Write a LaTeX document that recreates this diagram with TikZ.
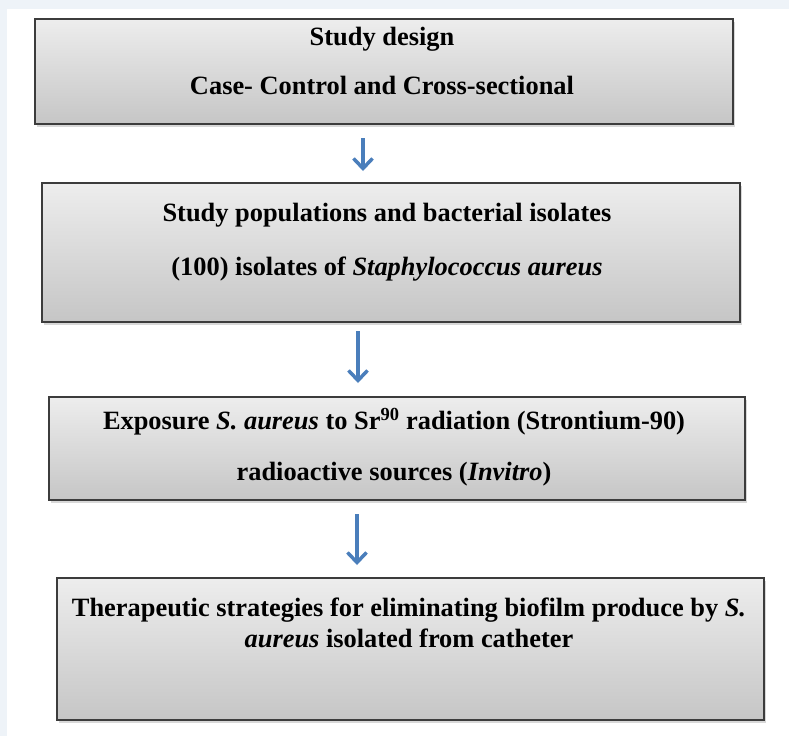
\documentclass[tikz,border=0pt]{standalone}
\usepackage{fontspec}
\setmainfont{Liberation Serif}
\usetikzlibrary{arrows.meta,shadows}
\definecolor{flowBlue}{RGB}{74,126,187}
\definecolor{pageTint}{RGB}{238,243,248}
\definecolor{boxEdge}{RGB}{60,60,60}

\begin{document}
\begin{tikzpicture}[x=1pt,y=-1pt,
  panel/.style={rectangle,draw=boxEdge,line width=2pt,top color=gray!14,bottom color=gray!45,
    drop shadow={shadow xshift=2pt,shadow yshift=-3pt,opacity=0.3}},
  txt/.style={align=center,inner sep=0pt,font=\fontsize{26.4}{30.5}\selectfont\bfseries},
  flow/.style={-{Straight Barb[length=10pt,width=19pt,line width=3.5pt]},flowBlue,line width=4pt}]
% page
\fill[pageTint] (0,0) rectangle (789,736);
\fill[white] (7,9) rectangle (789,736);
\useasboundingbox (0,0) rectangle (789,736);

% Study design
\node[panel,minimum width=698pt,minimum height=105pt] (design) at (384,71.5) {};
\node[txt] (designtxt) at (382,61) {Study design\\[18pt]Case- Control and Cross-sectional};

% Populations
\node[panel,minimum width=698pt,minimum height=139pt] (pop) at (391,252.5) {};
\node[txt] (poptxt) at (387,242) {Study populations and bacterial isolates\\[24pt](100) isolates of \textit{Staphylococcus aureus}};

% Exposure
\node[panel,minimum width=696pt,minimum height=103pt] (expo) at (397,448.5) {};
\node[txt] (expotxt) at (394,447) {Exposure \textit{S. aureus} to Sr\textsuperscript{90} radiation (Strontium-90)\\[21pt]radioactive sources (\textit{Invitro})};

% Strategies
\node[panel,minimum width=707pt,minimum height=142pt] (strat) at (410.5,649) {};
\node[txt] (strattxt) at (409,623) {Therapeutic strategies for eliminating biofilm produce by \textit{S.}\\\textit{aureus} isolated from catheter};

% arrows
\draw[flow,shorten <=13pt,shorten >=11pt] ([xshift=-21pt]design.south) -- ([xshift=-28pt]pop.north);
\draw[flow,shorten <=8pt,shorten >=13pt] ([xshift=-33pt]pop.south) -- ([xshift=-39pt]expo.north);
\draw[flow,shorten <=13pt,shorten >=12pt] ([xshift=-40pt]expo.south) -- ([xshift=-53.5pt]strat.north);
\end{tikzpicture}
\end{document}
